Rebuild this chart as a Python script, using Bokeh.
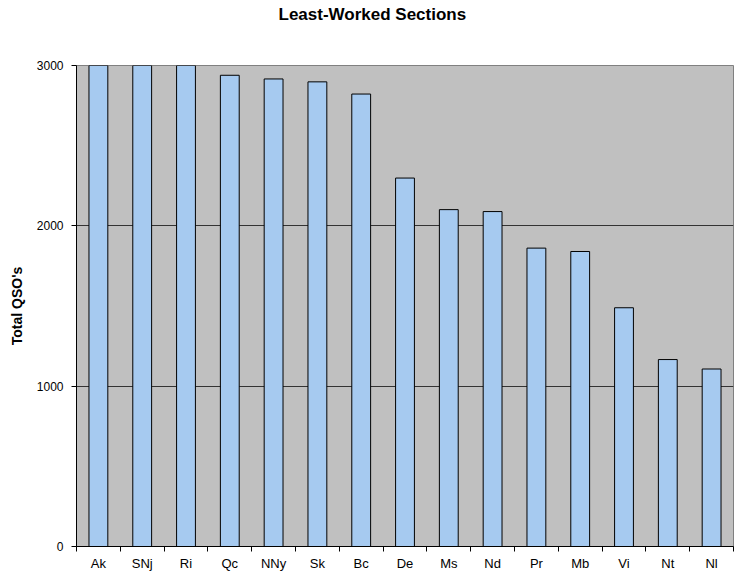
from bokeh.plotting import figure
from bokeh.models import FixedTicker, Range1d, Title, ColumnDataSource
from bokeh.embed import file_html
from bokeh.resources import INLINE

sections = ["Ak", "SNj", "Ri", "Qc", "NNy", "Sk", "Bc", "De", "Ms", "Nd", "Pr", "Mb", "Vi", "Nt", "Nl"]
qsos = [3400, 3400, 3400, 2939, 2916, 2898, 2822, 2298, 2101, 2089, 1861, 1840, 1489, 1166, 1107]
y_ticks = [0, 1000, 2000, 3000]

FONT = "Liberation Sans"
n = len(sections)
centers = [i + 0.5 for i in range(n)]

p = figure(width=736, height=573, output_backend="svg", toolbar_location=None,
           x_range=Range1d(0, n), y_range=Range1d(0, 3000),
           min_border_left=76, min_border_right=3, min_border_top=65, min_border_bottom=22)
p.title = None
# spacer keeps the title near the top edge, as in the reference
p.add_layout(Title(text=" ", standoff=23, text_font=FONT, text_font_size="16px"), "above")
p.add_layout(Title(text="Least-Worked Sections", align="left", offset=202, standoff=0,
                   text_font=FONT, text_font_size="17px", text_font_style="bold",
                   text_color="black"), "above")

src = ColumnDataSource(dict(x=centers, top=qsos))
p.vbar(x="x", top="top", width=0.43, bottom=0, source=src,
       fill_color="#a6caf0", line_color="black", line_width=1)

p.background_fill_color = "#c0c0c0"
p.border_fill_color = "white"
p.outline_line_color = "#808080"

p.xgrid.grid_line_color = None
p.ygrid.ticker = FixedTicker(ticks=y_ticks)
p.ygrid.grid_line_color = "#333333"
p.ygrid.grid_line_width = 1

xa = p.xaxis[0]
xa.ticker = FixedTicker(ticks=centers, minor_ticks=list(range(n + 1)))
xa.major_label_overrides = {c: s for c, s in zip(centers, sections)}
xa.major_tick_line_color = None
xa.major_tick_out = 5
xa.major_tick_in = 0
xa.minor_tick_out = 5
xa.minor_tick_in = 0
xa.minor_tick_line_color = "black"
xa.axis_line_color = "black"
xa.major_label_standoff = 4
xa.major_label_text_font = FONT
xa.major_label_text_font_size = "13px"
xa.major_label_text_color = "black"

ya = p.yaxis[0]
ya.ticker = FixedTicker(ticks=y_ticks)
ya.major_tick_out = 5
ya.major_tick_in = 0
ya.minor_tick_line_color = None
ya.axis_line_color = "black"
ya.major_tick_line_color = "black"
ya.major_label_standoff = 8
ya.major_label_text_font = FONT
ya.major_label_text_font_size = "12px"
ya.major_label_text_color = "black"
ya.axis_label = "Total QSO's"
ya.axis_label_text_font = FONT
ya.axis_label_text_font_size = "14px"
ya.axis_label_text_font_style = "bold"
ya.axis_label_text_color = "black"
ya.axis_label_standoff = 9

open("out.html", "w").write(file_html(p, INLINE))
